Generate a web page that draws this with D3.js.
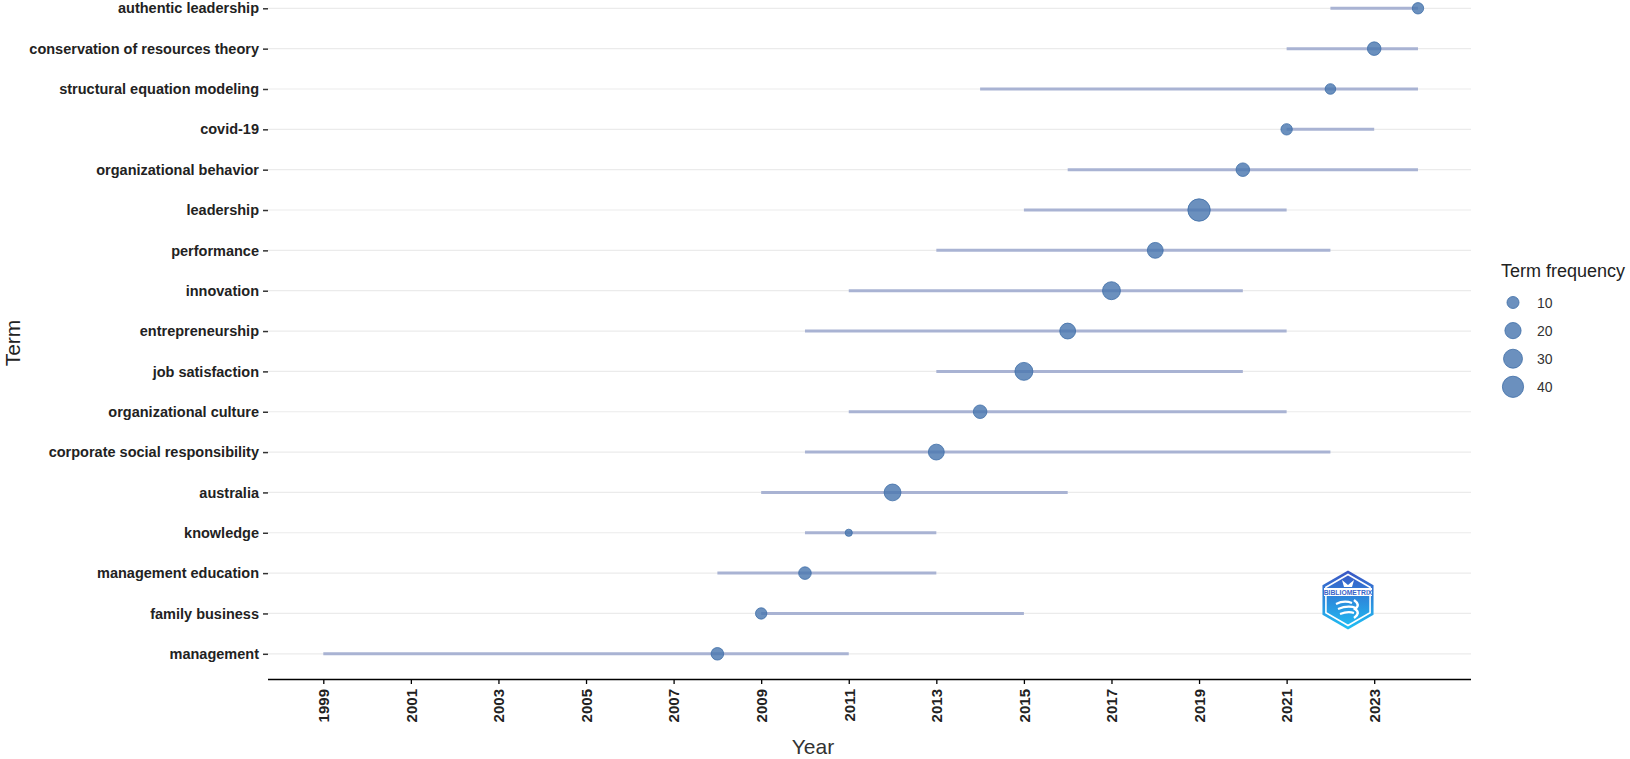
<!DOCTYPE html>
<html>
<head>
<meta charset="utf-8">
<script src="https://cdn.jsdelivr.net/npm/d3@7"></script>
<style>
  body { margin: 0; background: #fff; }
  svg { font-family: "Liberation Sans", Arial, sans-serif; }
</style>
</head>
<body>
<svg width="1630" height="759"></svg>
<script>
// trend topics data
var terms = ['authentic leadership', 'conservation of resources theory', 'structural equation modeling',
  'covid-19', 'organizational behavior', 'leadership', 'performance', 'innovation', 'entrepreneurship',
  'job satisfaction', 'organizational culture', 'corporate social responsibility', 'australia',
  'knowledge', 'management education', 'family business', 'management'];
var yearQ1 =  [2022, 2021, 2014, 2021, 2016, 2015, 2013, 2011, 2010, 2013, 2011, 2010, 2009, 2010, 2008, 2009, 1999];
var yearMed = [2024, 2023, 2022, 2021, 2020, 2019, 2018, 2017, 2016, 2015, 2014, 2013, 2012, 2011, 2010, 2009, 2008];
var yearQ3 =  [2024, 2024, 2024, 2023, 2024, 2021, 2022, 2020, 2021, 2020, 2021, 2022, 2016, 2013, 2013, 2015, 2011];
var freq =    [9, 13, 8, 9, 13, 46, 19, 26, 19, 26, 13, 19, 22, 6, 11, 9, 11];
var yearTicks = d3.range(1999, 2024, 2);
var legendValues = [10, 20, 30, 40];

var svg = d3.select('svg');
var left = 268, right = 1471, bottom = 679;

var x = d3.scaleLinear().domain([1999, 2023]).range([323.3, 1374.2]);
var y = d3.scalePoint().domain(terms).range([8.3, 653.8]);

// size like ggplot area palette: sqrt of rescaled value
var fNorm = d3.scaleLinear().domain([d3.min(freq), d3.max(freq)]).range([0, 1]);
var rSize = d3.scaleLinear().domain([0, 1]).range([3.6, 11.2]);
var r = function(f) { return rSize(Math.sqrt(Math.max(0, fNorm(f)))); };

var rows = terms.map(function(t, i) {
  return { term: t, q1: yearQ1[i], med: yearMed[i], q3: yearQ3[i], freq: freq[i] };
});

// horizontal grid
svg.append('g').selectAll('line').data(terms).enter().append('line')
  .attr('x1', left).attr('x2', right)
  .attr('y1', function(d) { return y(d); }).attr('y2', function(d) { return y(d); })
  .attr('stroke', '#ebebeb').attr('stroke-width', 1.2);

// segments
svg.append('g').selectAll('line').data(rows).enter().append('line')
  .attr('x1', function(d) { return x(d.q1); })
  .attr('x2', function(d) { return x(d.q3); })
  .attr('y1', function(d) { return y(d.term); })
  .attr('y2', function(d) { return y(d.term); })
  .attr('stroke', '#a9b3d3').attr('stroke-width', 3);

// points
svg.append('g').selectAll('circle').data(rows).enter().append('circle')
  .attr('cx', function(d) { return x(d.med); })
  .attr('cy', function(d) { return y(d.term); })
  .attr('r', function(d) { return r(d.freq); })
  .attr('fill', '#4a78b0').attr('fill-opacity', 0.82)
  .attr('stroke', '#3f6ea8').attr('stroke-opacity', 0.8).attr('stroke-width', 1);

// y axis (no line, just ticks + labels)
var yAxis = svg.append('g').attr('transform', 'translate(' + left + ',0)')
  .call(d3.axisLeft(y).tickSize(5).tickPadding(4));
yAxis.select('.domain').remove();
yAxis.selectAll('.tick line').attr('stroke', '#333').attr('stroke-width', 1.5);
yAxis.selectAll('.tick text')
  .attr('fill', '#222').style('font-size', '14.5px').style('font-weight', 'bold');

// x axis
var xAxis = svg.append('g').attr('transform', 'translate(0,' + bottom + ')')
  .call(d3.axisBottom(x).tickValues(yearTicks).tickFormat(d3.format('d')).tickSize(5).tickSizeOuter(0));
xAxis.select('.domain').attr('stroke', '#000').attr('stroke-width', 1.3)
  .attr('d', 'M' + left + ',0.5H' + right);
xAxis.selectAll('.tick line').attr('stroke', '#000').attr('stroke-width', 1.3);
xAxis.selectAll('.tick text')
  .attr('fill', '#222').style('font-size', '15px').style('font-weight', 'bold')
  .attr('transform', 'rotate(-90)')
  .attr('x', -10).attr('y', 0).attr('dy', '0.35em')
  .attr('text-anchor', 'end');

// axis titles
svg.append('text').attr('x', 813).attr('y', 754)
  .attr('text-anchor', 'middle').attr('fill', '#333').style('font-size', '21px').text('Year');
svg.append('text').attr('transform', 'translate(20,343) rotate(-90)')
  .attr('text-anchor', 'middle').attr('fill', '#222').style('font-size', '21px').text('Term');

// legend
var legend = svg.append('g');
legend.append('text').attr('x', 1501).attr('y', 277).attr('fill', '#222')
  .style('font-size', '18px').text('Term frequency');
var items = legend.selectAll('g.item').data(legendValues).enter().append('g')
  .attr('class', 'item')
  .attr('transform', function(d, i) { return 'translate(1513,' + (302.5 + i * 28.1) + ')'; });
items.append('circle').attr('r', function(d) { return r(d); })
  .attr('fill', '#4a78b0').attr('fill-opacity', 0.82)
  .attr('stroke', '#3f6ea8').attr('stroke-opacity', 0.8);
items.append('text').attr('x', 24).attr('dy', '0.36em').attr('fill', '#333')
  .style('font-size', '14px').text(function(d) { return d; });

// bibliometrix logo
var defs = svg.append('defs');
var grad = defs.append('linearGradient').attr('id', 'logoGrad')
  .attr('x1', 0).attr('y1', 0).attr('x2', 0).attr('y2', 1);
grad.append('stop').attr('offset', '0%').attr('stop-color', '#3b55c4');
grad.append('stop').attr('offset', '100%').attr('stop-color', '#1fc0f4');
var logo = svg.append('g').attr('transform', 'translate(1348,600)');
function hex(rad) {
  return d3.range(6).map(function(i) {
    var a = Math.PI / 3 * i - Math.PI / 2;
    return [rad * Math.cos(a), rad * Math.sin(a)];
  });
}
logo.append('polygon').attr('points', hex(29.5).join(' ')).attr('fill', 'url(#logoGrad)');
logo.append('polygon').attr('points', hex(25.5).join(' ')).attr('fill', 'none')
  .attr('stroke', '#fff').attr('stroke-width', 1.6);
logo.append('rect').attr('x', -24).attr('y', -12).attr('width', 48).attr('height', 8).attr('fill', '#fff');
logo.append('text').attr('x', 0).attr('y', -5.5).attr('text-anchor', 'middle')
  .attr('fill', '#3a64c8').style('font-size', '6.8px').style('font-weight', 'bold').text('BIBLIOMETRIX');
logo.append('path').attr('d', 'M-6,-20 L0,-15 L6,-20 L4,-13 L-4,-13 Z').attr('fill', '#fff');
logo.append('path').attr('d', 'M-12,4 Q-4,0 4,3 M-10,9 Q0,5 8,8 M-8,14 Q0,11 6,13')
  .attr('stroke', '#fff').attr('stroke-width', 2.2).attr('fill', 'none');
logo.append('path').attr('d', 'M6,0 Q13,5 7,9 Q13,13 6,18').attr('stroke', '#fff')
  .attr('stroke-width', 2.4).attr('fill', 'none');
</script>
</body>
</html>
